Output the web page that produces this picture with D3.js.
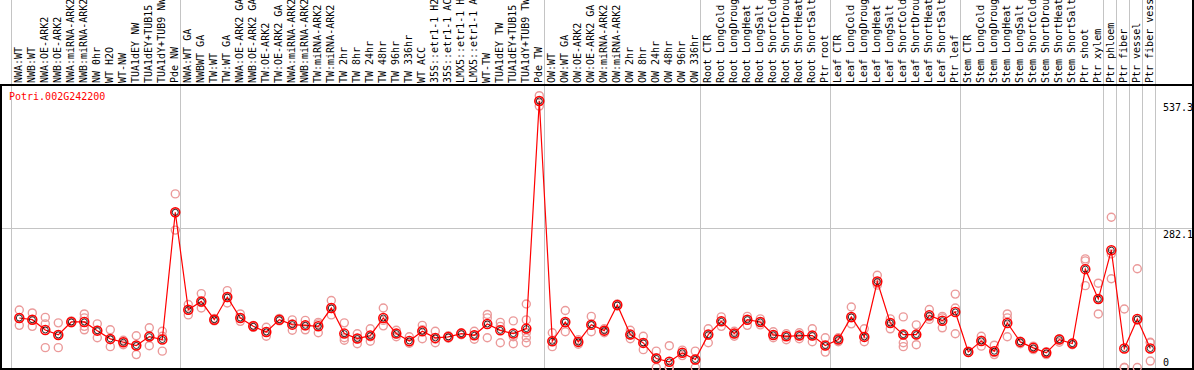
<!DOCTYPE html>
<html>
<head>
<meta charset="utf-8">
<script src="https://cdn.jsdelivr.net/npm/d3@7"></script>
<style>
body { margin: 0; background: #fff; }
svg { display: block; }
text { font-family: "DejaVu Sans Mono", monospace; font-size: 10px; }
</style>
</head>
<body>
<svg width="1194" height="370"></svg>
<script>
var gene = "Potri.002G242200";

var samples = [
  "NWA:WT", "NWB:WT", "NWA:OE-ARK2", "NWB:OE-ARK2", "NWA:miRNA-ARK2", "NWB:miRNA-ARK2",
  "NW 0hr", "WT H2O", "WT-NW", "TUA1dEY NW", "TUA1dEY+TUB15 NW", "TUA1dY+TUB9 NW", "Pde NW",
  "NWA:WT GA", "NWBWT GA", "TW:WT", "TW:WT GA", "NWA:OE-ARK2 GA", "NWB:OE-ARK2 GA",
  "TW:OE-ARK2", "TW:OE-ARK2 GA", "NWA:miRNA-ARK2 GA", "NWB:miRNA-ARK2 GA", "TW:miRNA-ARK2",
  "TW:miRNA-ARK2 GA", "TW 2hr", "TW 8hr", "TW 24hr", "TW 48hr", "TW 96hr", "TW 336hr", "WT ACC",
  "35S::etr1-1 H2O", "35S::etr1-1 ACC", "LMX5::etr1-1 H2O", "LMX5::etr1-1 ACC", "WT-TW",
  "TUA1dEY TW", "TUA1dEY+TUB15 TW", "TUA1dY+TUB9 TW", "Pde TW",
  "OW:WT", "OW:WT GA", "OW:OE-ARK2", "OW:OE-ARK2 GA", "OW:miRNA-ARK2", "OW:miRNA-ARK2 GA",
  "OW 2hr", "OW 8hr", "OW 24hr", "OW 48hr", "OW 96hr", "OW 336hr",
  "Root CTR", "Root LongCold", "Root LongDrought", "Root LongHeat", "Root LongSalt",
  "Root ShortCold", "Root ShortDrought", "Root ShortHeat", "Root ShortSalt", "Ptr root",
  "Leaf CTR", "Leaf LongCold", "Leaf LongDrought", "Leaf LongHeat", "Leaf LongSalt",
  "Leaf ShortCold", "Leaf ShortDrought", "Leaf ShortHeat", "Leaf ShortSalt", "Ptr leaf",
  "Stem CTR", "Stem LongCold", "Stem LongDrought", "Stem LongHeat", "Stem LongSalt",
  "Stem ShortCold", "Stem ShortDrought", "Stem ShortHeat", "Stem ShortSalt", "Ptr shoot", "Ptr xylem",
  "Ptr phloem", "Ptr fiber", "Ptr vessel", "Ptr fiber vessel"
];

// number of samples in each experiment block
var groupSizes = [13, 28, 12, 10, 10, 11, 1, 1, 1, 1];

var means = [
  99.8, 96.4, 75.7, 65.7, 91.8, 91.8, 74.3, 57.7, 50.9, 44.2, 62.3, 56.3, 312.9,
  116.5, 133.2, 96.4, 142, 99.8, 83, 71.7, 96.4, 86.4, 85, 83, 119.9, 68.3, 58.3, 64.3, 99.8,
  68.3, 53.6, 73, 59.7, 61.7, 68.3, 64.9, 87.8, 74.9, 68.3, 78.4, 537.3,
  52.9, 91.8, 51.6, 86.4, 74.3, 126, 66.3, 49.6, 18.1, 11.5, 29.5, 16.1,
  66.3, 93, 68.3, 96.4, 91.8, 65.7, 62.9, 64.3, 64.3, 44.2,
  56.3, 101.9, 61.7, 173.4, 89.8, 66.3, 66.3, 105.1, 94.4, 111.9,
  31.5, 53.6, 32.8, 89.8, 51.6, 39.6, 29.5, 56.3, 48.2, 198.3, 138,
  236.5, 38.2, 97.9, 38.2
];

var replicates = [
  [116, 100, 85], [110, 96, 83], [101, 88, 40], [90, 66, 40], [94, 92, 90], [108, 100, 83, 76],
  [88, 75, 60], [76, 56, 42], [55, 51, 46], [64, 43, 26], [80, 63, 44], [73, 63, 33], [350, 312, 277],
  [127, 116, 106], [149, 131, 120], [99, 96, 94], [155, 141, 130], [108, 100, 93], [85, 83, 81],
  [81, 72, 63], [99, 96, 94], [96, 88, 75], [95, 84, 76], [91, 88, 70], [135, 119, 106],
  [90, 60, 55], [68, 58, 48], [78, 62, 53], [120, 95, 84], [75, 68, 62], [62, 50, 49], [85, 76, 58],
  [73, 57, 50], [64, 62, 59], [70, 68, 66], [73, 65, 57], [107, 100, 60], [91, 83, 50],
  [94, 62, 48], [128, 96, 70, 60, 50], [548, 537, 527],
  [70, 53, 42], [115, 90, 72], [56, 52, 47], [103, 85, 72], [78, 74, 70], [128, 126, 124],
  [75, 66, 58], [63, 50, 36], [33, 20, 0], [44, 0, 0], [35, 30, 24], [33, 15, 0],
  [78, 66, 50], [102, 93, 83], [73, 68, 63], [103, 96, 85], [98, 92, 86], [72, 66, 60],
  [68, 63, 56], [70, 64, 58], [78, 64, 52], [60, 44, 31],
  [60, 56, 52], [122, 100, 88], [78, 62, 52], [186, 170, 166], [98, 90, 78], [102, 66, 50, 42],
  [86, 66, 46], [117, 102, 97], [103, 100, 80], [148, 120, 68],
  [33, 31, 30], [63, 55, 43], [45, 30, 26], [108, 100, 62], [53, 52, 48], [43, 40, 36],
  [32, 30, 26], [58, 57, 51], [49, 48, 46], [219, 215, 165], [170, 138, 108],
  [303, 229, 179], [118, 0, 0], [199, 95, 0], [51, 50, 13]
];

var yTicks = [537.3, 282.1, 0];

var svg = d3.select("svg"),
    width = +svg.attr("width"),
    height = +svg.attr("height");

var headerBottom = 85,
    plotBottom = 369,
    step = 13;

var x = d3.scaleLinear()
    .domain([0, samples.length - 1])
    .range([19.3, 19.3 + step * (samples.length - 1)]);

var y = d3.scaleLinear()
    .domain([0, 537.3])
    .range([367.5, 101]);

// block separators sit just right of the last sample of each block
var bounds = [-1];
var acc = -1;
groupSizes.forEach(function(n) { acc += n; bounds.push(acc); });

var grid = svg.append("g")
    .attr("stroke", "#c4c4c4")
    .attr("stroke-width", 1)
    .attr("shape-rendering", "crispEdges");

grid.selectAll("line.v")
  .data(bounds)
  .enter().append("line")
    .attr("class", "v")
    .attr("x1", function(d) { return Math.round(x(d) + 5) + 0.5; })
    .attr("x2", function(d) { return Math.round(x(d) + 5) + 0.5; })
    .attr("y1", 0)
    .attr("y2", plotBottom);

grid.append("line")
    .attr("x1", 1)
    .attr("x2", width - 1)
    .attr("y1", Math.round(y(282.1)) + 0.5)
    .attr("y2", Math.round(y(282.1)) + 0.5);

// frame
var frame = svg.append("g")
    .attr("stroke", "#000")
    .attr("stroke-width", 2)
    .attr("shape-rendering", "crispEdges");
frame.append("line").attr("x1", 0).attr("x2", width).attr("y1", headerBottom).attr("y2", headerBottom);
frame.append("line").attr("x1", 0).attr("x2", width).attr("y1", plotBottom).attr("y2", plotBottom);
frame.append("line").attr("x1", 1).attr("x2", 1).attr("y1", headerBottom).attr("y2", plotBottom);
frame.append("line").attr("x1", width - 1).attr("x2", width - 1).attr("y1", 0).attr("y2", plotBottom);

// sample labels, rotated
svg.append("g").selectAll("text")
  .data(samples)
  .enter().append("text")
    .attr("transform", function(d, i) { return "translate(" + (x(i) + 3) + "," + (headerBottom - 2) + ") rotate(-90)"; })
    .attr("fill", "#000")
    .text(function(d) { return d; });

// gene id
svg.append("text")
    .attr("x", 9)
    .attr("y", 100)
    .attr("fill", "#ff0000")
    .text(gene);

// value labels on the right
svg.append("g").selectAll("text")
  .data(yTicks)
  .enter().append("text")
    .attr("x", 1163)
    .attr("y", function(d) { return Math.min(y(d) + 10, 366); })
    .attr("fill", "#000")
    .text(function(d) { return d; });

// replicate points
var repData = [];
replicates.forEach(function(r, i) {
  r.forEach(function(v) { repData.push({i: i, v: v}); });
});

svg.append("g").selectAll("circle")
  .data(repData)
  .enter().append("circle")
    .attr("cx", function(d) { return x(d.i); })
    .attr("cy", function(d) { return y(d.v); })
    .attr("r", 4)
    .attr("fill", "none")
    .attr("stroke", "#eb9a9a")
    .attr("stroke-width", 1.4);

// mean line
var line = d3.line()
    .x(function(d, i) { return x(i); })
    .y(function(d) { return y(d); });

svg.append("path")
    .datum(means)
    .attr("d", line)
    .attr("fill", "none")
    .attr("stroke", "#ff0000")
    .attr("stroke-width", 1.2);

var meanG = svg.append("g").selectAll("g")
  .data(means)
  .enter().append("g")
    .attr("transform", function(d, i) { return "translate(" + x(i) + "," + y(d) + ")"; });

meanG.append("circle")
    .attr("r", 4.5)
    .attr("fill", "none")
    .attr("stroke", "#ff0000")
    .attr("stroke-width", 1.5);

meanG.append("circle")
    .attr("r", 3)
    .attr("fill", "none")
    .attr("stroke", "#000")
    .attr("stroke-width", 0.8);
</script>
</body>
</html>
